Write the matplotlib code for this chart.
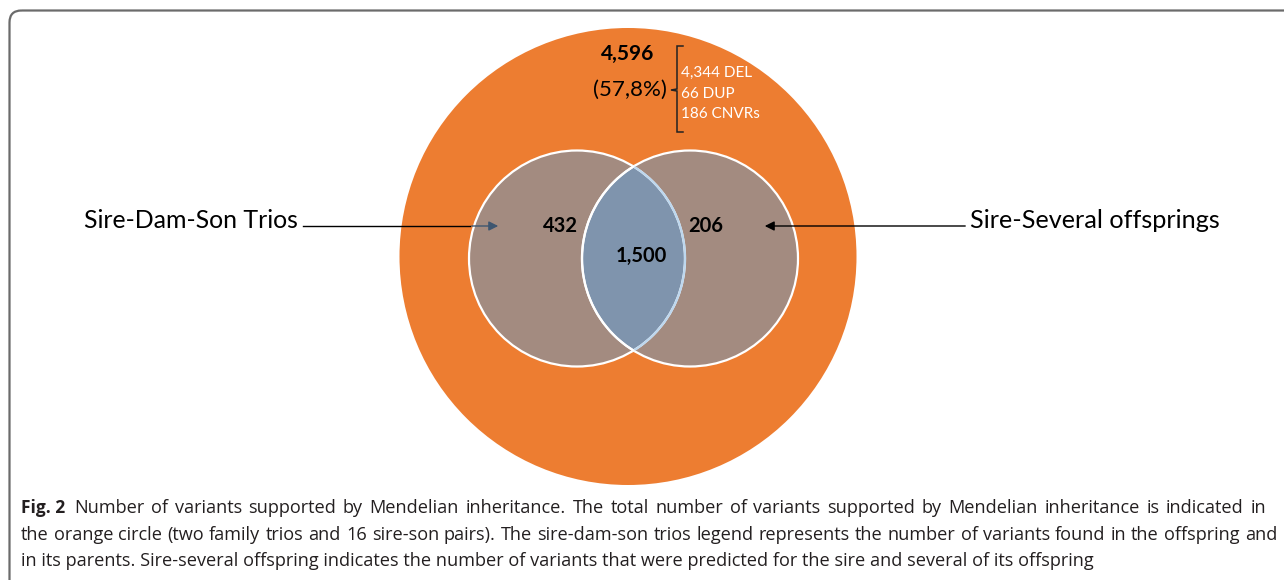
import matplotlib
matplotlib.use("Agg")
import matplotlib.pyplot as plt
from matplotlib.patches import Circle, FancyBboxPatch, PathPatch
from matplotlib.path import Path
import numpy as np

# ---- data ----
total_count = "4,596"
total_pct = "(57,8%)"
breakdown = ["4,344 DEL", "66 DUP", "186 CNVRs"]
set_labels = ["Sire-Dam-Son Trios", "Sire-Several offsprings"]
only_left = "432"
only_right = "206"
shared = "1,500"
caption_bold = "Fig. 2"
caption_lines = [
    "Number of variants supported by Mendelian inheritance. The total number of variants supported by Mendelian inheritance is indicated in",
    "the orange circle (two family trios and 16 sire-son pairs). The sire-dam-son trios legend represents the number of variants found in the offspring and",
    "in its parents. Sire-several offspring indicates the number of variants that were predicted for the sire and several of its offspring",
]

FONT = ["Lato", "DejaVu Sans"]
CAPFONT = ["Open Sans", "DejaVu Sans"]
W, H = 1284, 580
fig = plt.figure(figsize=(W / 100, H / 100), dpi=100)
ax = fig.add_axes([0, 0, 1, 1])
ax.set_xlim(0, W)
ax.set_ylim(H, 0)
ax.axis("off")
renderer = fig.canvas.get_renderer()

# frame
frame = FancyBboxPatch((9.5, 10.5), 1400, 700, boxstyle="round,pad=0,rounding_size=12",
                       fc="none", ec="#6b6b6b", lw=1.6, zorder=1)
ax.add_patch(frame)

# big orange circle
ax.add_patch(Circle((628, 256.5), 228.5, fc="#ED7D31", ec="none", zorder=2))

# inner circles
cL = (577, 258.5)
cR = (690, 258.5)
r = 108
ax.add_patch(Circle(cL, r, fc="#A38B80", ec="none", zorder=3))
ax.add_patch(Circle(cR, r, fc="#A38B80", ec="none", zorder=3))

# lens (intersection)
d = cR[0] - cL[0]
xi = d / 2
hy = np.sqrt(r**2 - xi**2)
angL = np.degrees(np.arctan2(hy, xi))
tL = np.radians(np.linspace(-angL, angL, 100))
arc1 = np.column_stack([cL[0] + r * np.cos(tL), cL[1] + r * np.sin(tL)])
tR = np.radians(np.linspace(180 - angL, 180 + angL, 100))
arc2 = np.column_stack([cR[0] + r * np.cos(tR), cR[1] + r * np.sin(tR)])
verts = np.vstack([arc1, arc2, arc1[:1]])
codes = [Path.MOVETO] + [Path.LINETO] * (len(verts) - 2) + [Path.CLOSEPOLY]
ax.add_patch(PathPatch(Path(verts, codes), fc="#7F94AD", ec="none", zorder=4))

# white outlines
ax.add_patch(Circle(cL, r, fc="none", ec="white", lw=1.6, zorder=5))
ax.add_patch(Circle(cR, r, fc="none", ec="white", lw=1.6, zorder=5))
ax.plot(arc1[:, 0], arc1[:, 1], color="#BDD7EE", lw=1.6, zorder=6)
ax.plot(arc2[:, 0], arc2[:, 1], color="white", lw=1.6, zorder=6)

# numbers in circles
ax.text(560, 226, only_left, ha="center", va="center", fontsize=14.5, fontweight="bold",
        family=FONT, color="black", zorder=8)
ax.text(706, 226, only_right, ha="center", va="center", fontsize=14.5, fontweight="bold",
        family=FONT, color="black", zorder=8)
ax.text(641, 256, shared, ha="center", va="center", fontsize=14.5, fontweight="bold",
        family=FONT, color="black", zorder=8)

# total count
ax.text(628, 54, total_count, ha="center", va="center", fontsize=15, fontweight="bold",
        family=FONT, color="black", zorder=8)
ax.text(630, 90, total_pct, ha="center", va="center", fontsize=16,
        family=FONT, color="black", zorder=8)
# brace
bx = 677
ax.plot([683, bx, bx, 671, bx, bx, 683], [46, 46, 89, 90, 91, 132, 132],
        color="#222222", lw=1.1, zorder=8, solid_joinstyle="miter")
for i, s in enumerate(breakdown):
    ax.text(681, 73 + i * 20.5, s, ha="left", va="center", fontsize=11,
            family=FONT, color="white", zorder=8)

# labels and arrows
ax.text(84, 220, set_labels[0], ha="left", va="center", fontsize=17.9,
        family=FONT, color="black", zorder=8)
ax.text(970, 220, set_labels[1], ha="left", va="center", fontsize=18.2,
        family=FONT, color="black", zorder=8)

ax.plot([303, 470], [226, 226], color="black", lw=1.0, zorder=7)
ax.annotate("", xy=(501, 226), xytext=(469, 226),
            arrowprops=dict(arrowstyle="-|>", color="#3E5670", lw=1.0,
                            mutation_scale=14), zorder=7)
ax.annotate("", xy=(762, 226), xytext=(968, 226),
            arrowprops=dict(arrowstyle="-|>", color="black", lw=1.0,
                            mutation_scale=14), zorder=7)

# caption (justified lines)
cap_color = "#231F20"
cs = 13.1


def text_width(t):
    return t.get_window_extent(renderer).width


def justified(line, x0, x1, y):
    words = line.split(" ")
    ts = [ax.text(0, y, w, ha="left", va="center", fontsize=cs, family=CAPFONT,
                  color=cap_color) for w in words]
    ws = [text_width(t) for t in ts]
    gap = (x1 - x0 - sum(ws)) / (len(words) - 1)
    x = x0
    for t, w in zip(ts, ws):
        t.set_x(x)
        x += w + gap


bold = ax.text(21, 508, caption_bold, ha="left", va="center", fontsize=cs - 0.6,
               fontweight="bold", family=CAPFONT, color=cap_color)
bold_end = 21 + text_width(bold)
justified(caption_lines[0], bold_end + 9, 1266, 508)
justified(caption_lines[1], 21, 1277, 535)
ax.text(21, 561, caption_lines[2], ha="left", va="center", fontsize=cs,
        family=CAPFONT, color=cap_color)

fig.savefig("out.png", dpi=100)
